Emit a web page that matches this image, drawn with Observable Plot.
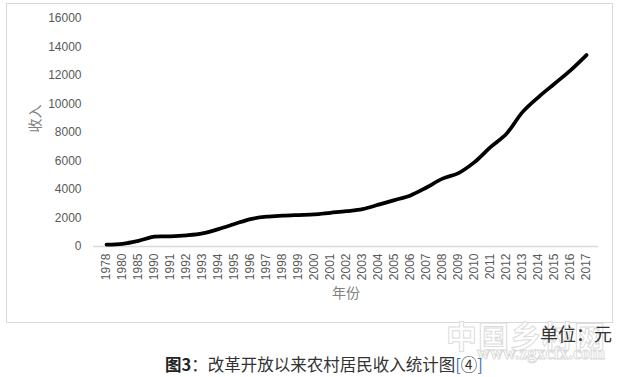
<!DOCTYPE html>
<html>
<head>
<meta charset="utf-8">
<script src="https://cdn.jsdelivr.net/npm/d3@7"></script>
<script src="https://cdn.jsdelivr.net/npm/@observablehq/plot@0.6"></script>
<style>
  html, body { margin: 0; padding: 0; background: #fff; width: 620px; height: 377px; overflow: hidden; position: relative; }
  #frame { position: absolute; left: 6px; top: 3px; width: 607px; height: 320px; box-sizing: border-box; border: 1px solid #d9d9d9; }
  #chart svg { display: block; }
  .wm1 { position: absolute; left: 446px; top: 312px; font: bold 31px "Noto Sans CJK SC", sans-serif; color: #fff; -webkit-text-stroke: 1px #dcdcdc; letter-spacing: 1px; white-space: nowrap; }
  .wm2 { position: absolute; left: 477px; top: 343px; font: bold 18px "Liberation Serif", serif; color: #fff; -webkit-text-stroke: 1px #dcdcdc; white-space: nowrap; }
  #unit { position: absolute; right: 8px; top: 322px; font: 18px "Noto Sans CJK SC", sans-serif; line-height: 22px; color: #333; white-space: nowrap; }
  #caption { position: absolute; left: 165px; top: 353px; font: 16.5px "Noto Sans CJK SC", sans-serif; line-height: 22px; color: #333; white-space: nowrap; }
  #caption b { color: #222; }
  #caption .br { color: #3a6fc4; }
</style>
</head>
<body>
<div id="frame"><div id="chart"></div></div>
<div class="wm1">中国乡村网</div>
<div class="wm2">www.zgxcfx.com</div>
<div id="unit">单位：元</div>
<div id="caption"><b>图3</b>：改革开放以来农村居民收入统计图<span class="br">[</span>④<span class="br">]</span></div>
<script>
const years = ["1978","1980","1985","1990","1991","1992","1993","1994","1995","1996","1997","1998","1999","2000","2001","2002","2003","2004","2005","2006","2007","2008","2009","2010","2011","2012","2013","2014","2015","2016","2017"];
const income = [134, 191, 398, 686, 709, 784, 922, 1221, 1578, 1926, 2090, 2162, 2210, 2253, 2366, 2476, 2622, 2936, 3255, 3587, 4140, 4761, 5153, 5919, 6977, 7917, 9430, 10489, 11422, 12363, 13432];
const yTicks = [0, 2000, 4000, 6000, 8000, 10000, 12000, 14000, 16000];
const yLabel = "收入";
const xLabel = "年份";

const data = years.map((y, i) => ({year: y, income: income[i]}));
const tickFont = "'Liberation Sans', Arial, sans-serif";

const chart = Plot.plot({
  width: 604,
  height: 317,
  marginLeft: 86,
  marginRight: 13,
  marginTop: 14,
  marginBottom: 75,
  style: {fontFamily: tickFont, background: "#fff"},
  x: {type: "point", domain: years, padding: 0.5, align: 0.5, axis: null},
  y: {domain: [0, 16000], axis: null},
  marks: [
    Plot.ruleY([0], {stroke: "#d9d9d9", strokeWidth: 1.5}),
    Plot.axisY({ticks: yTicks, tickFormat: d3.format("d"), tickSize: 0, tickPadding: 12, fontSize: 12, fill: "#595959", fontFamily: tickFont, label: null}),
    Plot.axisX({tickRotate: -90, tickSize: 0, tickPadding: 7, fontSize: 12, fill: "#595959", fontFamily: tickFont, label: null}),
    Plot.line(data, {x: "year", y: "income", curve: "catmull-rom", stroke: "#000", strokeWidth: 3.75, strokeLinecap: "round", strokeLinejoin: "round"}),
    Plot.text([yLabel], {frameAnchor: "left", dx: -58, rotate: -90, fontSize: 14, fill: "#7f7f7f", fontFamily: "'Noto Sans CJK SC', sans-serif"}),
    Plot.text([xLabel], {frameAnchor: "bottom", dy: 51, fontSize: 14, fill: "#7f7f7f", fontFamily: "'Noto Sans CJK SC', sans-serif"})
  ]
});
document.getElementById("chart").appendChild(chart);
</script>
</body>
</html>
